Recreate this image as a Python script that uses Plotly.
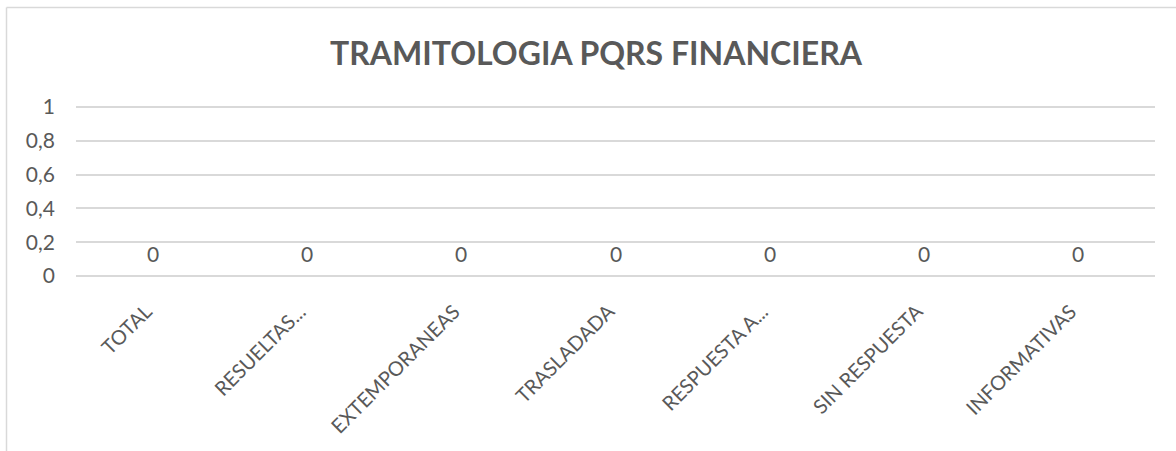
import plotly.graph_objects as go

categories = ["TOTAL", "RESUELTAS...", "EXTEMPORANEAS", "TRASLADADA", "RESPUESTA A...", "SIN RESPUESTA", "INFORMATIVAS"]
values = [0, 0, 0, 0, 0, 0, 0]
y_ticks = [0, 0.2, 0.4, 0.6, 0.8, 1]
y_tick_labels = ["0", "0,2", "0,4", "0,6", "0,8", "1"]

FONT = "Lato, Open Sans, sans-serif"
GRAY = "#595959"
GRID = "#d9d9d9"

fig = go.Figure()
fig.add_trace(go.Bar(x=categories, y=values, marker_color="#4472C4", marker_line_width=0,
                     opacity=0, showlegend=False, hoverinfo="x+y"))

for c, v in zip(categories, values):
    fig.add_annotation(x=c, y=v, text=str(v), showarrow=False, yanchor="bottom", yshift=8,
                       font=dict(family=FONT, size=21, color=GRAY))

W, H = 1176, 451
ml, mr, mt, mb = 76, 21, 105, 175
pw, ph = W - ml - mr, H - mt - mb

def px_x(x):
    return (x - ml) / pw

def px_y(y):
    return 1 - (y - mt) / ph

line = dict(color=GRID, width=1.5)
fig.add_shape(type="line", xref="paper", yref="paper", x0=px_x(6.5), x1=px_x(6.5), y0=px_y(7.5), y1=px_y(H + 5), line=line)
fig.add_shape(type="line", xref="paper", yref="paper", x0=px_x(6.5), x1=px_x(W + 5), y0=px_y(7.5), y1=px_y(7.5), line=line)

fig.update_layout(
    width=W, height=H,
    margin=dict(l=ml, r=mr, t=mt, b=mb),
    paper_bgcolor="white", plot_bgcolor="white",
    title=dict(text="<b>TRAMITOLOGIA PQRS FINANCIERA</b>", x=596 / W, xanchor="center",
               y=1 - 54 / H, yanchor="middle", font=dict(family=FONT, size=32, color=GRAY)),
    xaxis=dict(tickangle=-45, tickfont=dict(family=FONT, size=20, color=GRAY), showgrid=False,
               tickvals=categories, ticktext=[c + "\u00a0\u00a0" for c in categories],
               showline=False, ticks="", automargin=False, ticklabelstandoff=12),
    yaxis=dict(range=[0, 1.012], tickvals=y_ticks, ticktext=y_tick_labels, showgrid=True,
               gridcolor=GRID, gridwidth=1.5, zeroline=True, zerolinecolor=GRID, zerolinewidth=1.5,
               showline=False, tickfont=dict(family=FONT, size=21, color=GRAY),
               ticklabelstandoff=20, automargin=False),
    font=dict(family=FONT, color=GRAY),
)

fig.write_html("out.html", config={"displayModeBar": False},
               post_script="document.body.style.margin='0';document.body.style.padding='0';")
